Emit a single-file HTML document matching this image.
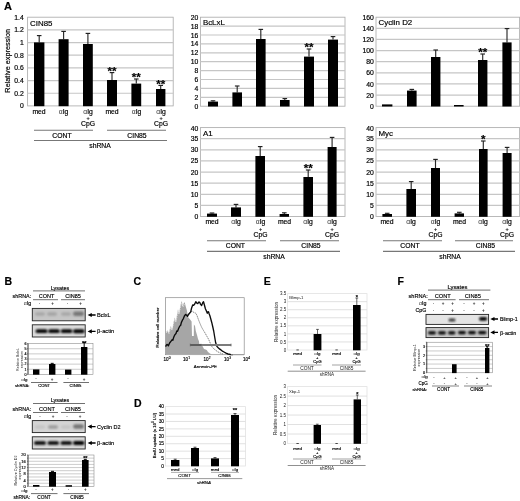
<!DOCTYPE html>
<html lang="en"><head><meta charset="utf-8"><title>Figure</title>
<style>html,body{margin:0;padding:0;background:#fff;}body{width:520px;height:501px;overflow:hidden;}svg{display:block;filter:blur(0.33px);font-family:'Liberation Sans', Arial, Helvetica, sans-serif;}text{stroke:none;}.b{stroke:#000;stroke-width:0.18px;}.s{stroke:#000;stroke-width:0.15px;}.al{stroke:none;fill:#333;}</style>
</head><body>
<svg width="520" height="501" viewBox="0 0 520 501">
<rect x="0.00" y="0.00" width="520.00" height="501.00" fill="#fff" stroke="none" stroke-width="1" />
<text class="b" x="4.00" y="9.50" font-size="11" text-anchor="start" font-weight="bold" fill="#000" >A</text>
<rect x="27.60" y="17.20" width="145.60" height="88.70" fill="#fff" stroke="#adadad" stroke-width="0.85" />
<line x1="27.60" y1="29.87" x2="173.20" y2="29.87" stroke="#c6c6c6" stroke-width="1.2" />
<line x1="27.60" y1="42.54" x2="173.20" y2="42.54" stroke="#c6c6c6" stroke-width="1.2" />
<line x1="27.60" y1="55.21" x2="173.20" y2="55.21" stroke="#c6c6c6" stroke-width="1.2" />
<line x1="27.60" y1="67.89" x2="173.20" y2="67.89" stroke="#c6c6c6" stroke-width="1.2" />
<line x1="27.60" y1="80.56" x2="173.20" y2="80.56" stroke="#c6c6c6" stroke-width="1.2" />
<line x1="27.60" y1="93.23" x2="173.20" y2="93.23" stroke="#c6c6c6" stroke-width="1.2" />
<text class="b" x="23.80" y="20.25" font-size="6.8" text-anchor="end" font-weight="normal" fill="#000" >1.4</text>
<text class="b" x="23.80" y="32.42" font-size="6.8" text-anchor="end" font-weight="normal" fill="#000" >1.2</text>
<text class="b" x="23.80" y="45.09" font-size="6.8" text-anchor="end" font-weight="normal" fill="#000" >1</text>
<text class="b" x="23.80" y="57.76" font-size="6.8" text-anchor="end" font-weight="normal" fill="#000" >0.8</text>
<text class="b" x="23.80" y="70.43" font-size="6.8" text-anchor="end" font-weight="normal" fill="#000" >0.6</text>
<text class="b" x="23.80" y="83.11" font-size="6.8" text-anchor="end" font-weight="normal" fill="#000" >0.4</text>
<text class="b" x="23.80" y="95.78" font-size="6.8" text-anchor="end" font-weight="normal" fill="#000" >0.2</text>
<text class="b" x="23.80" y="108.45" font-size="6.8" text-anchor="end" font-weight="normal" fill="#000" >0</text>
<text class="b" x="30.10" y="25.80" font-size="7.9" text-anchor="start" font-weight="normal" fill="#000" >CIN85</text>
<line x1="39.20" y1="35.60" x2="39.20" y2="42.40" stroke="#2a2a2a" stroke-width="1.15" />
<line x1="36.90" y1="35.60" x2="41.50" y2="35.60" stroke="#222" stroke-width="1.15" />
<rect x="34.00" y="42.40" width="10.40" height="63.80" fill="#000" stroke="none" stroke-width="1" />
<line x1="63.60" y1="31.40" x2="63.60" y2="39.20" stroke="#2a2a2a" stroke-width="1.15" />
<line x1="61.30" y1="31.40" x2="65.90" y2="31.40" stroke="#222" stroke-width="1.15" />
<rect x="58.60" y="39.20" width="10.00" height="67.00" fill="#000" stroke="none" stroke-width="1" />
<line x1="87.90" y1="33.40" x2="87.90" y2="44.00" stroke="#2a2a2a" stroke-width="1.15" />
<line x1="85.60" y1="33.40" x2="90.20" y2="33.40" stroke="#222" stroke-width="1.15" />
<rect x="83.00" y="44.00" width="9.80" height="62.20" fill="#000" stroke="none" stroke-width="1" />
<line x1="112.00" y1="72.60" x2="112.00" y2="80.00" stroke="#2a2a2a" stroke-width="1.15" />
<line x1="109.70" y1="72.60" x2="114.30" y2="72.60" stroke="#222" stroke-width="1.15" />
<rect x="107.00" y="80.00" width="10.00" height="26.20" fill="#000" stroke="none" stroke-width="1" />
<text class="b" x="112.00" y="74.94" font-size="11.5" text-anchor="middle" font-weight="bold" fill="#000" >**</text>
<line x1="136.30" y1="79.00" x2="136.30" y2="83.60" stroke="#2a2a2a" stroke-width="1.15" />
<line x1="134.00" y1="79.00" x2="138.60" y2="79.00" stroke="#222" stroke-width="1.15" />
<rect x="131.40" y="83.60" width="9.80" height="22.60" fill="#000" stroke="none" stroke-width="1" />
<text class="b" x="136.30" y="81.34" font-size="11.5" text-anchor="middle" font-weight="bold" fill="#000" >**</text>
<line x1="160.70" y1="85.40" x2="160.70" y2="89.00" stroke="#2a2a2a" stroke-width="1.15" />
<line x1="158.40" y1="85.40" x2="163.00" y2="85.40" stroke="#222" stroke-width="1.15" />
<rect x="156.00" y="89.00" width="9.40" height="17.20" fill="#000" stroke="none" stroke-width="1" />
<text class="b" x="160.70" y="87.74" font-size="11.5" text-anchor="middle" font-weight="bold" fill="#000" >**</text>
<text class="b" transform="translate(10.40,60.80) rotate(-90)" font-size="7.3" text-anchor="middle" fill="#000" >Relative expression</text>
<text class="b" x="39.00" y="113.80" font-size="6.8" text-anchor="middle" font-weight="normal" fill="#000" >med</text>
<text class="b" x="63.50" y="113.80" font-size="6.8" text-anchor="middle" font-weight="normal" fill="#000" ><tspan class="al">α</tspan>Ig</text>
<text class="b" x="88.00" y="113.80" font-size="6.8" text-anchor="middle" font-weight="normal" fill="#000" ><tspan class="al">α</tspan>Ig</text>
<text class="s" x="88.00" y="119.80" font-size="5.44" text-anchor="middle" font-weight="normal" fill="#000" >+</text>
<text class="b" x="88.00" y="126.00" font-size="6.8" text-anchor="middle" font-weight="normal" fill="#000" >CpG</text>
<text class="b" x="112.00" y="113.80" font-size="6.8" text-anchor="middle" font-weight="normal" fill="#000" >med</text>
<text class="b" x="136.50" y="113.80" font-size="6.8" text-anchor="middle" font-weight="normal" fill="#000" ><tspan class="al">α</tspan>Ig</text>
<text class="b" x="161.00" y="113.80" font-size="6.8" text-anchor="middle" font-weight="normal" fill="#000" ><tspan class="al">α</tspan>Ig</text>
<text class="s" x="161.00" y="119.80" font-size="5.44" text-anchor="middle" font-weight="normal" fill="#000" >+</text>
<text class="b" x="161.00" y="126.00" font-size="6.8" text-anchor="middle" font-weight="normal" fill="#000" >CpG</text>
<line x1="34.00" y1="130.20" x2="93.00" y2="130.20" stroke="#777" stroke-width="1.15" />
<line x1="107.00" y1="130.20" x2="166.00" y2="130.20" stroke="#777" stroke-width="1.15" />
<text class="b" x="62.00" y="137.60" font-size="6.8" text-anchor="middle" font-weight="normal" fill="#000" >CONT</text>
<text class="b" x="137.00" y="137.60" font-size="6.8" text-anchor="middle" font-weight="normal" fill="#000" >CIN85</text>
<line x1="34.00" y1="140.50" x2="167.00" y2="140.50" stroke="#777" stroke-width="1.15" />
<text class="b" x="100.00" y="148.40" font-size="6.8" text-anchor="middle" font-weight="normal" fill="#000" >shRNA</text>
<rect x="200.40" y="17.20" width="144.60" height="89.00" fill="#fff" stroke="#adadad" stroke-width="0.85" />
<line x1="200.40" y1="26.10" x2="345.00" y2="26.10" stroke="#c6c6c6" stroke-width="1.2" />
<line x1="200.40" y1="35.00" x2="345.00" y2="35.00" stroke="#c6c6c6" stroke-width="1.2" />
<line x1="200.40" y1="43.90" x2="345.00" y2="43.90" stroke="#c6c6c6" stroke-width="1.2" />
<line x1="200.40" y1="52.80" x2="345.00" y2="52.80" stroke="#c6c6c6" stroke-width="1.2" />
<line x1="200.40" y1="61.70" x2="345.00" y2="61.70" stroke="#c6c6c6" stroke-width="1.2" />
<line x1="200.40" y1="70.60" x2="345.00" y2="70.60" stroke="#c6c6c6" stroke-width="1.2" />
<line x1="200.40" y1="79.50" x2="345.00" y2="79.50" stroke="#c6c6c6" stroke-width="1.2" />
<line x1="200.40" y1="88.40" x2="345.00" y2="88.40" stroke="#c6c6c6" stroke-width="1.2" />
<line x1="200.40" y1="97.30" x2="345.00" y2="97.30" stroke="#c6c6c6" stroke-width="1.2" />
<text class="b" x="198.30" y="20.25" font-size="6.8" text-anchor="end" font-weight="normal" fill="#000" >20</text>
<text class="b" x="198.30" y="28.65" font-size="6.8" text-anchor="end" font-weight="normal" fill="#000" >18</text>
<text class="b" x="198.30" y="37.55" font-size="6.8" text-anchor="end" font-weight="normal" fill="#000" >16</text>
<text class="b" x="198.30" y="46.45" font-size="6.8" text-anchor="end" font-weight="normal" fill="#000" >14</text>
<text class="b" x="198.30" y="55.35" font-size="6.8" text-anchor="end" font-weight="normal" fill="#000" >12</text>
<text class="b" x="198.30" y="64.25" font-size="6.8" text-anchor="end" font-weight="normal" fill="#000" >10</text>
<text class="b" x="198.30" y="73.15" font-size="6.8" text-anchor="end" font-weight="normal" fill="#000" >8</text>
<text class="b" x="198.30" y="82.05" font-size="6.8" text-anchor="end" font-weight="normal" fill="#000" >6</text>
<text class="b" x="198.30" y="90.95" font-size="6.8" text-anchor="end" font-weight="normal" fill="#000" >4</text>
<text class="b" x="198.30" y="99.85" font-size="6.8" text-anchor="end" font-weight="normal" fill="#000" >2</text>
<text class="b" x="198.30" y="108.75" font-size="6.8" text-anchor="end" font-weight="normal" fill="#000" >0</text>
<text class="b" x="202.90" y="24.60" font-size="7.9" text-anchor="start" font-weight="normal" fill="#000" >BcLxL</text>
<line x1="213.00" y1="100.80" x2="213.00" y2="101.60" stroke="#2a2a2a" stroke-width="1.15" />
<line x1="210.70" y1="100.80" x2="215.30" y2="100.80" stroke="#222" stroke-width="1.15" />
<rect x="208.00" y="101.60" width="10.00" height="4.90" fill="#000" stroke="none" stroke-width="1" />
<line x1="237.20" y1="86.00" x2="237.20" y2="92.40" stroke="#2a2a2a" stroke-width="1.15" />
<line x1="234.90" y1="86.00" x2="239.50" y2="86.00" stroke="#222" stroke-width="1.15" />
<rect x="232.40" y="92.40" width="9.60" height="14.10" fill="#000" stroke="none" stroke-width="1" />
<line x1="260.80" y1="29.40" x2="260.80" y2="39.00" stroke="#2a2a2a" stroke-width="1.15" />
<line x1="258.50" y1="29.40" x2="263.10" y2="29.40" stroke="#222" stroke-width="1.15" />
<rect x="256.00" y="39.00" width="9.60" height="67.50" fill="#000" stroke="none" stroke-width="1" />
<line x1="284.80" y1="98.60" x2="284.80" y2="100.00" stroke="#2a2a2a" stroke-width="1.15" />
<line x1="282.50" y1="98.60" x2="287.10" y2="98.60" stroke="#222" stroke-width="1.15" />
<rect x="280.00" y="100.00" width="9.60" height="6.50" fill="#000" stroke="none" stroke-width="1" />
<line x1="309.00" y1="49.00" x2="309.00" y2="56.60" stroke="#2a2a2a" stroke-width="1.15" />
<line x1="306.70" y1="49.00" x2="311.30" y2="49.00" stroke="#222" stroke-width="1.15" />
<rect x="304.00" y="56.60" width="10.00" height="49.90" fill="#000" stroke="none" stroke-width="1" />
<text class="b" x="309.00" y="51.34" font-size="11.5" text-anchor="middle" font-weight="bold" fill="#000" >**</text>
<line x1="333.00" y1="36.60" x2="333.00" y2="39.60" stroke="#2a2a2a" stroke-width="1.15" />
<line x1="330.70" y1="36.60" x2="335.30" y2="36.60" stroke="#222" stroke-width="1.15" />
<rect x="328.00" y="39.60" width="10.00" height="66.90" fill="#000" stroke="none" stroke-width="1" />
<rect x="200.40" y="127.60" width="144.60" height="88.90" fill="#fff" stroke="#adadad" stroke-width="0.85" />
<line x1="200.40" y1="138.71" x2="345.00" y2="138.71" stroke="#c6c6c6" stroke-width="1.2" />
<line x1="200.40" y1="149.82" x2="345.00" y2="149.82" stroke="#c6c6c6" stroke-width="1.2" />
<line x1="200.40" y1="160.94" x2="345.00" y2="160.94" stroke="#c6c6c6" stroke-width="1.2" />
<line x1="200.40" y1="172.05" x2="345.00" y2="172.05" stroke="#c6c6c6" stroke-width="1.2" />
<line x1="200.40" y1="183.16" x2="345.00" y2="183.16" stroke="#c6c6c6" stroke-width="1.2" />
<line x1="200.40" y1="194.28" x2="345.00" y2="194.28" stroke="#c6c6c6" stroke-width="1.2" />
<line x1="200.40" y1="205.39" x2="345.00" y2="205.39" stroke="#c6c6c6" stroke-width="1.2" />
<text class="b" x="198.30" y="130.65" font-size="6.8" text-anchor="end" font-weight="normal" fill="#000" >40</text>
<text class="b" x="198.30" y="141.26" font-size="6.8" text-anchor="end" font-weight="normal" fill="#000" >35</text>
<text class="b" x="198.30" y="152.37" font-size="6.8" text-anchor="end" font-weight="normal" fill="#000" >30</text>
<text class="b" x="198.30" y="163.49" font-size="6.8" text-anchor="end" font-weight="normal" fill="#000" >25</text>
<text class="b" x="198.30" y="174.60" font-size="6.8" text-anchor="end" font-weight="normal" fill="#000" >20</text>
<text class="b" x="198.30" y="185.71" font-size="6.8" text-anchor="end" font-weight="normal" fill="#000" >15</text>
<text class="b" x="198.30" y="196.82" font-size="6.8" text-anchor="end" font-weight="normal" fill="#000" >10</text>
<text class="b" x="198.30" y="207.94" font-size="6.8" text-anchor="end" font-weight="normal" fill="#000" >5</text>
<text class="b" x="198.30" y="219.05" font-size="6.8" text-anchor="end" font-weight="normal" fill="#000" >0</text>
<text class="b" x="202.90" y="136.00" font-size="7.9" text-anchor="start" font-weight="normal" fill="#000" >A1</text>
<line x1="212.00" y1="213.00" x2="212.00" y2="213.60" stroke="#2a2a2a" stroke-width="1.15" />
<line x1="209.70" y1="213.00" x2="214.30" y2="213.00" stroke="#222" stroke-width="1.15" />
<rect x="207.00" y="213.60" width="10.00" height="3.20" fill="#000" stroke="none" stroke-width="1" />
<line x1="236.00" y1="204.40" x2="236.00" y2="207.40" stroke="#2a2a2a" stroke-width="1.15" />
<line x1="233.70" y1="204.40" x2="238.30" y2="204.40" stroke="#222" stroke-width="1.15" />
<rect x="231.00" y="207.40" width="10.00" height="9.40" fill="#000" stroke="none" stroke-width="1" />
<line x1="260.20" y1="146.60" x2="260.20" y2="156.00" stroke="#2a2a2a" stroke-width="1.15" />
<line x1="257.90" y1="146.60" x2="262.50" y2="146.60" stroke="#222" stroke-width="1.15" />
<rect x="255.40" y="156.00" width="9.60" height="60.80" fill="#000" stroke="none" stroke-width="1" />
<line x1="284.30" y1="212.80" x2="284.30" y2="214.00" stroke="#2a2a2a" stroke-width="1.15" />
<line x1="282.00" y1="212.80" x2="286.60" y2="212.80" stroke="#222" stroke-width="1.15" />
<rect x="279.60" y="214.00" width="9.40" height="2.80" fill="#000" stroke="none" stroke-width="1" />
<line x1="308.20" y1="170.00" x2="308.20" y2="177.00" stroke="#2a2a2a" stroke-width="1.15" />
<line x1="305.90" y1="170.00" x2="310.50" y2="170.00" stroke="#222" stroke-width="1.15" />
<rect x="303.40" y="177.00" width="9.60" height="39.80" fill="#000" stroke="none" stroke-width="1" />
<text class="b" x="308.20" y="172.34" font-size="11.5" text-anchor="middle" font-weight="bold" fill="#000" >**</text>
<line x1="332.10" y1="137.40" x2="332.10" y2="147.00" stroke="#2a2a2a" stroke-width="1.15" />
<line x1="329.80" y1="137.40" x2="334.40" y2="137.40" stroke="#222" stroke-width="1.15" />
<rect x="327.60" y="147.00" width="9.00" height="69.80" fill="#000" stroke="none" stroke-width="1" />
<text class="b" x="212.00" y="224.00" font-size="6.8" text-anchor="middle" font-weight="normal" fill="#000" >med</text>
<text class="b" x="236.00" y="224.00" font-size="6.8" text-anchor="middle" font-weight="normal" fill="#000" ><tspan class="al">α</tspan>Ig</text>
<text class="b" x="260.50" y="224.00" font-size="6.8" text-anchor="middle" font-weight="normal" fill="#000" ><tspan class="al">α</tspan>Ig</text>
<text class="s" x="260.50" y="231.30" font-size="5.44" text-anchor="middle" font-weight="normal" fill="#000" >+</text>
<text class="b" x="260.50" y="237.00" font-size="6.8" text-anchor="middle" font-weight="normal" fill="#000" >CpG</text>
<text class="b" x="284.50" y="224.00" font-size="6.8" text-anchor="middle" font-weight="normal" fill="#000" >med</text>
<text class="b" x="308.00" y="224.00" font-size="6.8" text-anchor="middle" font-weight="normal" fill="#000" ><tspan class="al">α</tspan>Ig</text>
<text class="b" x="332.00" y="224.00" font-size="6.8" text-anchor="middle" font-weight="normal" fill="#000" ><tspan class="al">α</tspan>Ig</text>
<text class="s" x="332.00" y="231.30" font-size="5.44" text-anchor="middle" font-weight="normal" fill="#000" >+</text>
<text class="b" x="332.00" y="237.00" font-size="6.8" text-anchor="middle" font-weight="normal" fill="#000" >CpG</text>
<line x1="207.00" y1="240.70" x2="266.00" y2="240.70" stroke="#777" stroke-width="1.15" />
<line x1="280.00" y1="240.70" x2="339.00" y2="240.70" stroke="#777" stroke-width="1.15" />
<text class="b" x="235.40" y="248.00" font-size="6.8" text-anchor="middle" font-weight="normal" fill="#000" >CONT</text>
<text class="b" x="311.00" y="248.00" font-size="6.8" text-anchor="middle" font-weight="normal" fill="#000" >CIN85</text>
<line x1="207.00" y1="251.30" x2="340.00" y2="251.30" stroke="#777" stroke-width="1.15" />
<text class="b" x="274.00" y="258.80" font-size="6.8" text-anchor="middle" font-weight="normal" fill="#000" >shRNA</text>
<rect x="376.00" y="17.20" width="143.60" height="89.00" fill="#fff" stroke="#adadad" stroke-width="0.85" />
<line x1="376.00" y1="28.32" x2="519.60" y2="28.32" stroke="#c6c6c6" stroke-width="1.2" />
<line x1="376.00" y1="39.45" x2="519.60" y2="39.45" stroke="#c6c6c6" stroke-width="1.2" />
<line x1="376.00" y1="50.58" x2="519.60" y2="50.58" stroke="#c6c6c6" stroke-width="1.2" />
<line x1="376.00" y1="61.70" x2="519.60" y2="61.70" stroke="#c6c6c6" stroke-width="1.2" />
<line x1="376.00" y1="72.83" x2="519.60" y2="72.83" stroke="#c6c6c6" stroke-width="1.2" />
<line x1="376.00" y1="83.95" x2="519.60" y2="83.95" stroke="#c6c6c6" stroke-width="1.2" />
<line x1="376.00" y1="95.08" x2="519.60" y2="95.08" stroke="#c6c6c6" stroke-width="1.2" />
<text class="b" x="373.90" y="20.25" font-size="6.8" text-anchor="end" font-weight="normal" fill="#000" >160</text>
<text class="b" x="373.90" y="30.87" font-size="6.8" text-anchor="end" font-weight="normal" fill="#000" >140</text>
<text class="b" x="373.90" y="42.00" font-size="6.8" text-anchor="end" font-weight="normal" fill="#000" >120</text>
<text class="b" x="373.90" y="53.12" font-size="6.8" text-anchor="end" font-weight="normal" fill="#000" >100</text>
<text class="b" x="373.90" y="64.25" font-size="6.8" text-anchor="end" font-weight="normal" fill="#000" >80</text>
<text class="b" x="373.90" y="75.37" font-size="6.8" text-anchor="end" font-weight="normal" fill="#000" >60</text>
<text class="b" x="373.90" y="86.50" font-size="6.8" text-anchor="end" font-weight="normal" fill="#000" >40</text>
<text class="b" x="373.90" y="97.62" font-size="6.8" text-anchor="end" font-weight="normal" fill="#000" >20</text>
<text class="b" x="373.90" y="108.75" font-size="6.8" text-anchor="end" font-weight="normal" fill="#000" >0</text>
<text class="b" x="378.50" y="25.10" font-size="7.9" text-anchor="start" font-weight="normal" fill="#000" >Cyclin D2</text>
<rect x="382.00" y="104.40" width="10.40" height="2.10" fill="#000" stroke="none" stroke-width="1" />
<line x1="411.80" y1="89.40" x2="411.80" y2="90.60" stroke="#2a2a2a" stroke-width="1.15" />
<line x1="409.50" y1="89.40" x2="414.10" y2="89.40" stroke="#222" stroke-width="1.15" />
<rect x="407.00" y="90.60" width="9.60" height="15.90" fill="#000" stroke="none" stroke-width="1" />
<line x1="435.70" y1="50.00" x2="435.70" y2="57.00" stroke="#2a2a2a" stroke-width="1.15" />
<line x1="433.40" y1="50.00" x2="438.00" y2="50.00" stroke="#222" stroke-width="1.15" />
<rect x="431.00" y="57.00" width="9.40" height="49.50" fill="#000" stroke="none" stroke-width="1" />
<rect x="454.00" y="105.00" width="9.60" height="1.50" fill="#000" stroke="none" stroke-width="1" />
<line x1="482.70" y1="54.00" x2="482.70" y2="60.00" stroke="#2a2a2a" stroke-width="1.15" />
<line x1="480.40" y1="54.00" x2="485.00" y2="54.00" stroke="#222" stroke-width="1.15" />
<rect x="478.00" y="60.00" width="9.40" height="46.50" fill="#000" stroke="none" stroke-width="1" />
<text class="b" x="482.70" y="56.34" font-size="11.5" text-anchor="middle" font-weight="bold" fill="#000" >**</text>
<line x1="507.00" y1="28.60" x2="507.00" y2="42.40" stroke="#2a2a2a" stroke-width="1.15" />
<line x1="504.70" y1="28.60" x2="509.30" y2="28.60" stroke="#222" stroke-width="1.15" />
<rect x="502.40" y="42.40" width="9.20" height="64.10" fill="#000" stroke="none" stroke-width="1" />
<rect x="376.00" y="127.60" width="143.60" height="88.90" fill="#fff" stroke="#adadad" stroke-width="0.85" />
<line x1="376.00" y1="138.71" x2="519.60" y2="138.71" stroke="#c6c6c6" stroke-width="1.2" />
<line x1="376.00" y1="149.82" x2="519.60" y2="149.82" stroke="#c6c6c6" stroke-width="1.2" />
<line x1="376.00" y1="160.94" x2="519.60" y2="160.94" stroke="#c6c6c6" stroke-width="1.2" />
<line x1="376.00" y1="172.05" x2="519.60" y2="172.05" stroke="#c6c6c6" stroke-width="1.2" />
<line x1="376.00" y1="183.16" x2="519.60" y2="183.16" stroke="#c6c6c6" stroke-width="1.2" />
<line x1="376.00" y1="194.28" x2="519.60" y2="194.28" stroke="#c6c6c6" stroke-width="1.2" />
<line x1="376.00" y1="205.39" x2="519.60" y2="205.39" stroke="#c6c6c6" stroke-width="1.2" />
<text class="b" x="373.90" y="130.65" font-size="6.8" text-anchor="end" font-weight="normal" fill="#000" >40</text>
<text class="b" x="373.90" y="141.26" font-size="6.8" text-anchor="end" font-weight="normal" fill="#000" >35</text>
<text class="b" x="373.90" y="152.37" font-size="6.8" text-anchor="end" font-weight="normal" fill="#000" >30</text>
<text class="b" x="373.90" y="163.49" font-size="6.8" text-anchor="end" font-weight="normal" fill="#000" >25</text>
<text class="b" x="373.90" y="174.60" font-size="6.8" text-anchor="end" font-weight="normal" fill="#000" >20</text>
<text class="b" x="373.90" y="185.71" font-size="6.8" text-anchor="end" font-weight="normal" fill="#000" >15</text>
<text class="b" x="373.90" y="196.82" font-size="6.8" text-anchor="end" font-weight="normal" fill="#000" >10</text>
<text class="b" x="373.90" y="207.94" font-size="6.8" text-anchor="end" font-weight="normal" fill="#000" >5</text>
<text class="b" x="373.90" y="219.05" font-size="6.8" text-anchor="end" font-weight="normal" fill="#000" >0</text>
<text class="b" x="378.50" y="135.70" font-size="7.9" text-anchor="start" font-weight="normal" fill="#000" >Myc</text>
<line x1="387.20" y1="213.30" x2="387.20" y2="214.00" stroke="#2a2a2a" stroke-width="1.15" />
<line x1="384.90" y1="213.30" x2="389.50" y2="213.30" stroke="#222" stroke-width="1.15" />
<rect x="382.40" y="214.00" width="9.60" height="2.80" fill="#000" stroke="none" stroke-width="1" />
<line x1="411.20" y1="181.60" x2="411.20" y2="189.00" stroke="#2a2a2a" stroke-width="1.15" />
<line x1="408.90" y1="181.60" x2="413.50" y2="181.60" stroke="#222" stroke-width="1.15" />
<rect x="406.40" y="189.00" width="9.60" height="27.80" fill="#000" stroke="none" stroke-width="1" />
<line x1="435.50" y1="159.40" x2="435.50" y2="168.00" stroke="#2a2a2a" stroke-width="1.15" />
<line x1="433.20" y1="159.40" x2="437.80" y2="159.40" stroke="#222" stroke-width="1.15" />
<rect x="431.00" y="168.00" width="9.00" height="48.80" fill="#000" stroke="none" stroke-width="1" />
<line x1="459.30" y1="212.30" x2="459.30" y2="213.40" stroke="#2a2a2a" stroke-width="1.15" />
<line x1="457.00" y1="212.30" x2="461.60" y2="212.30" stroke="#222" stroke-width="1.15" />
<rect x="454.60" y="213.40" width="9.40" height="3.40" fill="#000" stroke="none" stroke-width="1" />
<line x1="483.30" y1="141.00" x2="483.30" y2="149.00" stroke="#2a2a2a" stroke-width="1.15" />
<line x1="481.00" y1="141.00" x2="485.60" y2="141.00" stroke="#222" stroke-width="1.15" />
<rect x="479.00" y="149.00" width="8.60" height="67.80" fill="#000" stroke="none" stroke-width="1" />
<text class="b" x="483.30" y="143.34" font-size="11.5" text-anchor="middle" font-weight="bold" fill="#000" >*</text>
<line x1="507.10" y1="147.40" x2="507.10" y2="153.00" stroke="#2a2a2a" stroke-width="1.15" />
<line x1="504.80" y1="147.40" x2="509.40" y2="147.40" stroke="#222" stroke-width="1.15" />
<rect x="502.60" y="153.00" width="9.00" height="63.80" fill="#000" stroke="none" stroke-width="1" />
<text class="b" x="387.00" y="224.00" font-size="6.8" text-anchor="middle" font-weight="normal" fill="#000" >med</text>
<text class="b" x="411.00" y="224.00" font-size="6.8" text-anchor="middle" font-weight="normal" fill="#000" ><tspan class="al">α</tspan>Ig</text>
<text class="b" x="435.50" y="224.00" font-size="6.8" text-anchor="middle" font-weight="normal" fill="#000" ><tspan class="al">α</tspan>Ig</text>
<text class="s" x="435.50" y="231.30" font-size="5.44" text-anchor="middle" font-weight="normal" fill="#000" >+</text>
<text class="b" x="435.50" y="237.00" font-size="6.8" text-anchor="middle" font-weight="normal" fill="#000" >CpG</text>
<text class="b" x="459.50" y="224.00" font-size="6.8" text-anchor="middle" font-weight="normal" fill="#000" >med</text>
<text class="b" x="483.00" y="224.00" font-size="6.8" text-anchor="middle" font-weight="normal" fill="#000" ><tspan class="al">α</tspan>Ig</text>
<text class="b" x="507.00" y="224.00" font-size="6.8" text-anchor="middle" font-weight="normal" fill="#000" ><tspan class="al">α</tspan>Ig</text>
<text class="s" x="507.00" y="231.30" font-size="5.44" text-anchor="middle" font-weight="normal" fill="#000" >+</text>
<text class="b" x="507.00" y="237.00" font-size="6.8" text-anchor="middle" font-weight="normal" fill="#000" >CpG</text>
<line x1="383.00" y1="240.70" x2="442.00" y2="240.70" stroke="#777" stroke-width="1.15" />
<line x1="455.00" y1="240.70" x2="513.00" y2="240.70" stroke="#777" stroke-width="1.15" />
<text class="b" x="410.00" y="248.00" font-size="6.8" text-anchor="middle" font-weight="normal" fill="#000" >CONT</text>
<text class="b" x="485.40" y="248.00" font-size="6.8" text-anchor="middle" font-weight="normal" fill="#000" >CIN85</text>
<line x1="383.00" y1="251.30" x2="515.00" y2="251.30" stroke="#777" stroke-width="1.15" />
<text class="b" x="450.00" y="258.80" font-size="6.8" text-anchor="middle" font-weight="normal" fill="#000" >shRNA</text>
<text class="b" x="4.60" y="284.80" font-size="10.5" text-anchor="start" font-weight="bold" fill="#000" >B</text>
<defs><filter id="bl" x="-20%" y="-50%" width="140%" height="200%"><feGaussianBlur stdDeviation="0.85"/></filter><filter id="bl2" x="-20%" y="-50%" width="140%" height="200%"><feGaussianBlur stdDeviation="1.1"/></filter></defs>
<text class="s" x="60.00" y="289.60" font-size="5.4" text-anchor="middle" font-weight="normal" fill="#000" >Lysates</text>
<line x1="33.00" y1="290.90" x2="85.00" y2="290.90" stroke="#333" stroke-width="0.7" />
<text class="s" x="31.20" y="297.70" font-size="5.4" text-anchor="end" font-weight="normal" fill="#000" >shRNA:</text>
<text class="s" x="46.50" y="297.70" font-size="5.5" text-anchor="middle" font-weight="normal" fill="#000" >CONT</text>
<text class="s" x="73.00" y="297.70" font-size="5.5" text-anchor="middle" font-weight="normal" fill="#000" >CIN85</text>
<line x1="33.00" y1="299.70" x2="58.00" y2="299.70" stroke="#333" stroke-width="0.7" />
<line x1="61.00" y1="299.70" x2="85.00" y2="299.70" stroke="#333" stroke-width="0.7" />
<text class="s" x="31.20" y="305.30" font-size="5.2" text-anchor="end" font-weight="normal" fill="#000" ><tspan class="al">α</tspan>Ig</text>
<text x="39.40" y="304.80" font-size="4.5" text-anchor="middle" font-weight="normal" fill="#333" >-</text>
<text x="52.60" y="305.10" font-size="4.5" text-anchor="middle" font-weight="bold" fill="#333" >+</text>
<text x="67.40" y="304.80" font-size="4.5" text-anchor="middle" font-weight="normal" fill="#333" >-</text>
<text x="80.60" y="305.10" font-size="4.5" text-anchor="middle" font-weight="bold" fill="#333" >+</text>
<rect x="32.30" y="308.40" width="52.90" height="12.40" fill="#c6c6c6" stroke="#222" stroke-width="0.9" />
<rect x="35.00" y="312.25" width="10.00" height="3.50" rx="1.75" fill="#888" opacity="0.5" filter="url(#bl2)"/>
<rect x="47.00" y="312.25" width="10.00" height="3.50" rx="1.75" fill="#888" opacity="0.55" filter="url(#bl2)"/>
<rect x="61.00" y="312.25" width="10.00" height="3.50" rx="1.75" fill="#888" opacity="0.5" filter="url(#bl2)"/>
<rect x="73.00" y="311.55" width="11.00" height="4.50" rx="2.25" fill="#555" opacity="0.7" filter="url(#bl2)"/>
<rect x="32.30" y="324.80" width="52.90" height="12.20" fill="#dcdcdc" stroke="#222" stroke-width="0.9" />
<rect x="35.60" y="329.30" width="12.00" height="3.80" rx="1.90" fill="#000" opacity="1" filter="url(#bl)"/>
<rect x="48.20" y="329.30" width="11.60" height="3.80" rx="1.90" fill="#000" opacity="1" filter="url(#bl)"/>
<rect x="60.80" y="329.30" width="11.60" height="3.80" rx="1.90" fill="#000" opacity="1" filter="url(#bl)"/>
<rect x="73.00" y="329.15" width="11.60" height="4.10" rx="2.05" fill="#000" opacity="1" filter="url(#bl)"/>
<path d="M87.60,315.00 l4.2,-2.1 v1.45 h3.80 v1.3 h-3.80 v1.45 z" fill="#000"/>
<path d="M87.60,331.40 l4.2,-2.1 v1.45 h3.80 v1.3 h-3.80 v1.45 z" fill="#000"/>
<text class="s" x="97.00" y="317.00" font-size="5.6" text-anchor="start" font-weight="normal" fill="#000" >BclxL</text>
<text class="s" x="97.00" y="333.40" font-size="5.7" text-anchor="start" font-weight="normal" fill="#000" >β-actin</text>
<rect x="28.00" y="343.60" width="65.00" height="30.80" fill="#fff" stroke="#777" stroke-width="0.5" />
<line x1="28.00" y1="348.73" x2="93.00" y2="348.73" stroke="#999" stroke-width="0.5" />
<line x1="28.00" y1="353.87" x2="93.00" y2="353.87" stroke="#999" stroke-width="0.5" />
<line x1="28.00" y1="359.00" x2="93.00" y2="359.00" stroke="#999" stroke-width="0.5" />
<line x1="28.00" y1="364.13" x2="93.00" y2="364.13" stroke="#999" stroke-width="0.5" />
<line x1="28.00" y1="369.27" x2="93.00" y2="369.27" stroke="#999" stroke-width="0.5" />
<line x1="28.00" y1="343.60" x2="28.00" y2="374.40" stroke="#333" stroke-width="0.8" />
<line x1="27.00" y1="343.60" x2="28.00" y2="343.60" stroke="#333" stroke-width="0.5" />
<line x1="27.00" y1="348.73" x2="28.00" y2="348.73" stroke="#333" stroke-width="0.5" />
<line x1="27.00" y1="353.87" x2="28.00" y2="353.87" stroke="#333" stroke-width="0.5" />
<line x1="27.00" y1="359.00" x2="28.00" y2="359.00" stroke="#333" stroke-width="0.5" />
<line x1="27.00" y1="364.13" x2="28.00" y2="364.13" stroke="#333" stroke-width="0.5" />
<line x1="27.00" y1="369.27" x2="28.00" y2="369.27" stroke="#333" stroke-width="0.5" />
<line x1="27.00" y1="374.40" x2="28.00" y2="374.40" stroke="#333" stroke-width="0.5" />
<text class="s" x="26.40" y="344.90" font-size="3.6" text-anchor="end" font-weight="normal" fill="#000" >6</text>
<text class="s" x="26.40" y="350.03" font-size="3.6" text-anchor="end" font-weight="normal" fill="#000" >5</text>
<text class="s" x="26.40" y="355.16" font-size="3.6" text-anchor="end" font-weight="normal" fill="#000" >4</text>
<text class="s" x="26.40" y="360.30" font-size="3.6" text-anchor="end" font-weight="normal" fill="#000" >3</text>
<text class="s" x="26.40" y="365.43" font-size="3.6" text-anchor="end" font-weight="normal" fill="#000" >2</text>
<text class="s" x="26.40" y="370.56" font-size="3.6" text-anchor="end" font-weight="normal" fill="#000" >1</text>
<text class="s" x="26.40" y="375.70" font-size="3.6" text-anchor="end" font-weight="normal" fill="#000" >0</text>
<rect x="33.00" y="369.40" width="6.40" height="5.30" fill="#000" stroke="none" stroke-width="1" />
<line x1="52.20" y1="363.40" x2="52.20" y2="364.00" stroke="#2a2a2a" stroke-width="1.15" />
<line x1="50.70" y1="363.40" x2="53.70" y2="363.40" stroke="#222" stroke-width="1.15" />
<rect x="49.00" y="364.00" width="6.40" height="10.70" fill="#000" stroke="none" stroke-width="1" />
<rect x="65.00" y="369.60" width="6.40" height="5.10" fill="#000" stroke="none" stroke-width="1" />
<line x1="84.20" y1="342.60" x2="84.20" y2="347.00" stroke="#2a2a2a" stroke-width="1.15" />
<line x1="82.70" y1="342.60" x2="85.70" y2="342.60" stroke="#222" stroke-width="1.15" />
<rect x="81.00" y="347.00" width="6.40" height="27.70" fill="#000" stroke="none" stroke-width="1" />
<text class="s" x="84.20" y="344.88" font-size="5.5" text-anchor="middle" font-weight="bold" fill="#000" >**</text>
<text transform="translate(19.00,359.50) rotate(-90)" font-size="3.6" text-anchor="middle" fill="#222" >Relative BclxL</text>
<text transform="translate(23.00,359.50) rotate(-90)" font-size="3.6" text-anchor="middle" fill="#222" >expression</text>
<text class="s" x="27.40" y="380.90" font-size="4.4" text-anchor="end" font-weight="normal" fill="#000" ><tspan class="al">α</tspan>Ig</text>
<text x="36.00" y="380.20" font-size="4.5" text-anchor="middle" font-weight="normal" fill="#333" >-</text>
<text x="52.00" y="380.50" font-size="4.5" text-anchor="middle" font-weight="bold" fill="#333" >+</text>
<text x="68.00" y="380.20" font-size="4.5" text-anchor="middle" font-weight="normal" fill="#333" >-</text>
<text x="84.00" y="380.50" font-size="4.5" text-anchor="middle" font-weight="bold" fill="#333" >+</text>
<line x1="31.00" y1="382.50" x2="57.50" y2="382.50" stroke="#333" stroke-width="0.7" />
<line x1="63.40" y1="382.50" x2="89.00" y2="382.50" stroke="#333" stroke-width="0.7" />
<text class="s" x="29.40" y="387.40" font-size="4.2" text-anchor="end" font-weight="normal" fill="#000" >shRNA:</text>
<text class="s" x="44.20" y="387.40" font-size="4.2" text-anchor="middle" font-weight="normal" fill="#000" >CONT</text>
<text class="s" x="75.50" y="387.40" font-size="4.2" text-anchor="middle" font-weight="normal" fill="#000" >CIN85</text>
<text class="s" x="60.00" y="402.20" font-size="5.4" text-anchor="middle" font-weight="normal" fill="#000" >Lysates</text>
<line x1="33.00" y1="403.50" x2="85.00" y2="403.50" stroke="#333" stroke-width="0.7" />
<text class="s" x="31.20" y="411.20" font-size="5.4" text-anchor="end" font-weight="normal" fill="#000" >shRNA:</text>
<text class="s" x="47.00" y="411.20" font-size="5.6" text-anchor="middle" font-weight="normal" fill="#000" >CONT</text>
<text class="s" x="73.00" y="411.20" font-size="5.6" text-anchor="middle" font-weight="normal" fill="#000" >CIN85</text>
<line x1="33.00" y1="412.50" x2="58.00" y2="412.50" stroke="#333" stroke-width="0.7" />
<line x1="61.00" y1="412.50" x2="85.00" y2="412.50" stroke="#333" stroke-width="0.7" />
<text class="s" x="31.20" y="418.00" font-size="5.2" text-anchor="end" font-weight="normal" fill="#000" ><tspan class="al">α</tspan>Ig</text>
<text x="40.00" y="417.60" font-size="4.5" text-anchor="middle" font-weight="normal" fill="#333" >-</text>
<text x="53.00" y="417.90" font-size="4.5" text-anchor="middle" font-weight="bold" fill="#333" >+</text>
<text x="67.00" y="417.60" font-size="4.5" text-anchor="middle" font-weight="normal" fill="#333" >-</text>
<text x="80.00" y="417.90" font-size="4.5" text-anchor="middle" font-weight="bold" fill="#333" >+</text>
<rect x="32.30" y="420.60" width="52.90" height="12.00" fill="#d4d4d4" stroke="#222" stroke-width="0.9" />
<rect x="35.00" y="425.50" width="10.00" height="3.00" rx="1.50" fill="#aaa" opacity="0.4" filter="url(#bl2)"/>
<rect x="48.00" y="425.25" width="10.00" height="3.50" rx="1.75" fill="#777" opacity="0.6" filter="url(#bl2)"/>
<rect x="61.00" y="425.50" width="10.00" height="3.00" rx="1.50" fill="#aaa" opacity="0.4" filter="url(#bl2)"/>
<rect x="73.00" y="424.35" width="11.00" height="4.50" rx="2.25" fill="#555" opacity="0.75" filter="url(#bl2)"/>
<rect x="32.30" y="436.80" width="52.90" height="12.20" fill="#d8d8d8" stroke="#222" stroke-width="0.9" />
<rect x="34.00" y="441.15" width="12.00" height="3.70" rx="1.85" fill="#000" opacity="1" filter="url(#bl)"/>
<rect x="47.50" y="441.15" width="11.50" height="3.70" rx="1.85" fill="#000" opacity="1" filter="url(#bl)"/>
<rect x="60.50" y="441.15" width="11.50" height="3.70" rx="1.85" fill="#000" opacity="1" filter="url(#bl)"/>
<rect x="73.00" y="441.00" width="11.50" height="4.00" rx="2.00" fill="#000" opacity="1" filter="url(#bl)"/>
<path d="M87.60,426.60 l4.2,-2.1 v1.45 h3.80 v1.3 h-3.80 v1.45 z" fill="#000"/>
<path d="M87.60,443.00 l4.2,-2.1 v1.45 h3.80 v1.3 h-3.80 v1.45 z" fill="#000"/>
<text class="s" x="97.00" y="428.60" font-size="5.5" text-anchor="start" font-weight="normal" fill="#000" >Cyclin D2</text>
<text class="s" x="97.00" y="445.00" font-size="5.7" text-anchor="start" font-weight="normal" fill="#000" >β-actin</text>
<rect x="28.00" y="455.00" width="66.00" height="31.40" fill="#fff" stroke="#777" stroke-width="0.5" />
<line x1="28.00" y1="458.14" x2="94.00" y2="458.14" stroke="#999" stroke-width="0.5" />
<line x1="28.00" y1="461.28" x2="94.00" y2="461.28" stroke="#999" stroke-width="0.5" />
<line x1="28.00" y1="464.42" x2="94.00" y2="464.42" stroke="#999" stroke-width="0.5" />
<line x1="28.00" y1="467.56" x2="94.00" y2="467.56" stroke="#999" stroke-width="0.5" />
<line x1="28.00" y1="470.70" x2="94.00" y2="470.70" stroke="#999" stroke-width="0.5" />
<line x1="28.00" y1="473.84" x2="94.00" y2="473.84" stroke="#999" stroke-width="0.5" />
<line x1="28.00" y1="476.98" x2="94.00" y2="476.98" stroke="#999" stroke-width="0.5" />
<line x1="28.00" y1="480.12" x2="94.00" y2="480.12" stroke="#999" stroke-width="0.5" />
<line x1="28.00" y1="483.26" x2="94.00" y2="483.26" stroke="#999" stroke-width="0.5" />
<line x1="28.00" y1="455.00" x2="28.00" y2="486.40" stroke="#333" stroke-width="0.8" />
<line x1="27.00" y1="455.00" x2="28.00" y2="455.00" stroke="#333" stroke-width="0.5" />
<line x1="27.00" y1="458.14" x2="28.00" y2="458.14" stroke="#333" stroke-width="0.5" />
<line x1="27.00" y1="461.28" x2="28.00" y2="461.28" stroke="#333" stroke-width="0.5" />
<line x1="27.00" y1="464.42" x2="28.00" y2="464.42" stroke="#333" stroke-width="0.5" />
<line x1="27.00" y1="467.56" x2="28.00" y2="467.56" stroke="#333" stroke-width="0.5" />
<line x1="27.00" y1="470.70" x2="28.00" y2="470.70" stroke="#333" stroke-width="0.5" />
<line x1="27.00" y1="473.84" x2="28.00" y2="473.84" stroke="#333" stroke-width="0.5" />
<line x1="27.00" y1="476.98" x2="28.00" y2="476.98" stroke="#333" stroke-width="0.5" />
<line x1="27.00" y1="480.12" x2="28.00" y2="480.12" stroke="#333" stroke-width="0.5" />
<line x1="27.00" y1="483.26" x2="28.00" y2="483.26" stroke="#333" stroke-width="0.5" />
<line x1="27.00" y1="486.40" x2="28.00" y2="486.40" stroke="#333" stroke-width="0.5" />
<text class="s" x="25.70" y="456.44" font-size="4.0" text-anchor="end" font-weight="normal" fill="#000" >20</text>
<text class="s" x="25.70" y="462.72" font-size="4.0" text-anchor="end" font-weight="normal" fill="#000" >16</text>
<text class="s" x="25.70" y="469.00" font-size="4.0" text-anchor="end" font-weight="normal" fill="#000" >12</text>
<text class="s" x="25.70" y="475.28" font-size="4.0" text-anchor="end" font-weight="normal" fill="#000" >8</text>
<text class="s" x="25.70" y="481.56" font-size="4.0" text-anchor="end" font-weight="normal" fill="#000" >4</text>
<text class="s" x="25.70" y="487.84" font-size="4.0" text-anchor="end" font-weight="normal" fill="#000" >0</text>
<rect x="33.00" y="485.00" width="6.40" height="1.70" fill="#000" stroke="none" stroke-width="1" />
<line x1="52.50" y1="471.40" x2="52.50" y2="472.00" stroke="#2a2a2a" stroke-width="1.15" />
<line x1="51.00" y1="471.40" x2="54.00" y2="471.40" stroke="#222" stroke-width="1.15" />
<rect x="49.00" y="472.00" width="7.00" height="14.70" fill="#000" stroke="none" stroke-width="1" />
<rect x="65.60" y="485.20" width="6.40" height="1.50" fill="#000" stroke="none" stroke-width="1" />
<line x1="85.30" y1="459.40" x2="85.30" y2="460.00" stroke="#2a2a2a" stroke-width="1.15" />
<line x1="83.80" y1="459.40" x2="86.80" y2="459.40" stroke="#222" stroke-width="1.15" />
<rect x="82.00" y="460.00" width="6.60" height="26.70" fill="#000" stroke="none" stroke-width="1" />
<text class="s" x="85.30" y="460.18" font-size="5.5" text-anchor="middle" font-weight="bold" fill="#000" >**</text>
<text transform="translate(16.50,470.50) rotate(-90)" font-size="3.7" text-anchor="middle" fill="#222" >Relative Cyclin D2</text>
<text transform="translate(20.60,470.50) rotate(-90)" font-size="3.7" text-anchor="middle" fill="#222" >expression</text>
<text class="s" x="27.40" y="491.60" font-size="4.4" text-anchor="end" font-weight="normal" fill="#000" ><tspan class="al">α</tspan>Ig</text>
<text x="36.00" y="490.80" font-size="4.5" text-anchor="middle" font-weight="normal" fill="#333" >-</text>
<text x="52.40" y="491.10" font-size="4.5" text-anchor="middle" font-weight="bold" fill="#333" >+</text>
<text x="68.60" y="490.80" font-size="4.5" text-anchor="middle" font-weight="normal" fill="#333" >-</text>
<text x="85.40" y="491.10" font-size="4.5" text-anchor="middle" font-weight="bold" fill="#333" >+</text>
<line x1="31.00" y1="493.60" x2="57.50" y2="493.60" stroke="#333" stroke-width="0.7" />
<line x1="63.40" y1="493.60" x2="89.00" y2="493.60" stroke="#333" stroke-width="0.7" />
<text class="s" x="30.00" y="498.80" font-size="4.8" text-anchor="end" font-weight="normal" fill="#000" >shRNA:</text>
<text class="s" x="44.00" y="498.80" font-size="4.8" text-anchor="middle" font-weight="normal" fill="#000" >CONT</text>
<text class="s" x="77.00" y="498.80" font-size="4.8" text-anchor="middle" font-weight="normal" fill="#000" >CIN85</text>
<text class="b" x="133.60" y="284.80" font-size="10.5" text-anchor="start" font-weight="bold" fill="#000" >C</text>
<rect x="165.40" y="297.70" width="78.80" height="57.00" fill="#fff" stroke="#8a8a8a" stroke-width="0.7" />
<polygon points="165.6,354.6 165.6,331.0 166.6,332.0 167.7,330.2 168.8,333.5 169.8,329.0 170.9,326.0 171.8,330.0 172.8,327.0 173.6,322.0 174.8,317.6 175.8,322.0 176.8,316.0 178.0,309.3 179.0,314.0 180.0,308.0 180.8,304.0 181.8,301.0 182.8,306.5 183.8,303.0 184.7,302.3 185.6,306.0 186.9,310.6 188.0,317.0 190.1,319.5 191.6,321.5 192.0,336.0 193.8,336.0 193.9,324.6 195.0,326.0 195.8,331.0 197.0,335.0 198.0,339.0 199.0,341.3 199.5,346.0 200.6,346.0 200.9,343.0 201.6,344.4 203.0,347.0 204.0,349.0 205.5,349.5 206.7,350.0 208.0,352.0 209.9,353.4 212.0,354.6" fill="#a6a6a6"/>
<polyline points="166.2,333.0 167.7,331.0 169.0,333.5 170.9,327.0 172.0,330.0 173.6,323.0 174.8,319.0 176.0,322.0 178.0,311.0 179.0,314.0 180.8,305.5 181.8,303.0 183.0,307.0 184.7,304.0" fill="none" stroke="#f2f2f2" stroke-width="0.7" stroke-dasharray="1.4,1"/>
<polyline points="188.6,315.5 190.7,311.9 192.5,311.3 193.9,312.5 195.8,313.2 197.0,315.5 198.4,319.5 200.0,323.5 201.6,327.2 203.5,330.5 205.4,333.6 207.0,336.5 208.6,339.3 210.2,343.0 211.8,346.4 213.5,348.5 215.6,350.2 217.5,351.6 219.5,352.7 223.0,354.0" fill="none" stroke="#6e6e6e" stroke-width="0.85" stroke-dasharray="1.5,0.7"/>
<polyline points="165.6,346.6 166.4,345.0 167.2,344.4 168.4,345.8 169.6,343.0 170.9,341.3 172.0,339.8 172.8,340.3 173.8,337.0 174.8,334.9 176.0,333.5 176.8,331.0 177.6,331.3 178.6,328.5 179.8,326.0 180.6,325.5 181.4,322.4 182.4,320.2 183.4,318.6 184.4,316.0 185.6,314.4 186.6,315.2 187.5,316.4 188.4,314.4 189.5,313.2 190.7,311.9 191.6,308.0 192.7,304.9 193.6,305.3 194.6,304.2 195.8,301.7 196.8,303.2 197.8,303.6 198.8,302.0 199.7,302.3 200.6,304.4 201.6,305.5 202.6,303.0 203.5,301.7 204.4,305.0 205.4,308.7 206.4,311.0 207.3,313.2 208.0,311.7 208.6,311.9 209.2,314.0 209.9,315.7 210.8,319.0 211.8,322.7 212.8,327.0 213.7,331.0 214.6,336.5 215.6,342.5 216.9,346.4 218.2,347.8 219.5,348.9 222.0,350.8 224.0,352.0 226.0,353.2 228.0,354.0 230.5,354.5 233.0,354.7" fill="none" stroke="#0c0c0c" stroke-width="1.35" stroke-linejoin="round"/>
<line x1="190.10" y1="345.00" x2="231.20" y2="345.00" stroke="#7c7c7c" stroke-width="1.8" />
<line x1="190.10" y1="345.00" x2="201.50" y2="345.00" stroke="#5a5a5a" stroke-width="1.8" />
<line x1="231.00" y1="354.70" x2="244.00" y2="354.70" stroke="#999" stroke-width="1.0" />
<line x1="190.30" y1="343.60" x2="190.30" y2="346.40" stroke="#666" stroke-width="0.7" />
<line x1="231.00" y1="343.60" x2="231.00" y2="346.40" stroke="#666" stroke-width="0.7" />
<text x="167.0" y="361.2" class="s" font-size="4.6" text-anchor="middle" fill="#000">10<tspan dy="-1.8" font-size="3.2">0</tspan></text>
<text x="186.5" y="361.2" class="s" font-size="4.6" text-anchor="middle" fill="#000">10<tspan dy="-1.8" font-size="3.2">1</tspan></text>
<text x="207.0" y="361.2" class="s" font-size="4.6" text-anchor="middle" fill="#000">10<tspan dy="-1.8" font-size="3.2">2</tspan></text>
<text x="227.5" y="361.2" class="s" font-size="4.6" text-anchor="middle" fill="#000">10<tspan dy="-1.8" font-size="3.2">3</tspan></text>
<text x="246.5" y="361.2" class="s" font-size="4.6" text-anchor="middle" fill="#000">10<tspan dy="-1.8" font-size="3.2">4</tspan></text>
<text class="s" x="205.40" y="368.00" font-size="4.4" text-anchor="middle" font-weight="normal" fill="#000" >Annexin-PE</text>
<text class="s" transform="translate(158.60,327.50) rotate(-90)" font-size="4.4" text-anchor="middle" fill="#000" >Relative cell number</text>
<text class="b" x="134.00" y="407.40" font-size="10.5" text-anchor="start" font-weight="bold" fill="#000" >D</text>
<rect x="165.50" y="406.60" width="79.90" height="59.40" fill="#fff" stroke="#e2e2e2" stroke-width="0.8" />
<line x1="165.50" y1="414.03" x2="245.40" y2="414.03" stroke="#d9d9d9" stroke-width="0.8" />
<line x1="165.50" y1="421.45" x2="245.40" y2="421.45" stroke="#d9d9d9" stroke-width="0.8" />
<line x1="165.50" y1="428.88" x2="245.40" y2="428.88" stroke="#d9d9d9" stroke-width="0.8" />
<line x1="165.50" y1="436.30" x2="245.40" y2="436.30" stroke="#d9d9d9" stroke-width="0.8" />
<line x1="165.50" y1="443.73" x2="245.40" y2="443.73" stroke="#d9d9d9" stroke-width="0.8" />
<line x1="165.50" y1="451.15" x2="245.40" y2="451.15" stroke="#d9d9d9" stroke-width="0.8" />
<line x1="165.50" y1="458.57" x2="245.40" y2="458.57" stroke="#d9d9d9" stroke-width="0.8" />
<text class="s" x="164.00" y="408.33" font-size="4.8" text-anchor="end" font-weight="normal" fill="#000" >40</text>
<text class="s" x="164.00" y="415.75" font-size="4.8" text-anchor="end" font-weight="normal" fill="#000" >35</text>
<text class="s" x="164.00" y="423.18" font-size="4.8" text-anchor="end" font-weight="normal" fill="#000" >30</text>
<text class="s" x="164.00" y="430.60" font-size="4.8" text-anchor="end" font-weight="normal" fill="#000" >25</text>
<text class="s" x="164.00" y="438.03" font-size="4.8" text-anchor="end" font-weight="normal" fill="#000" >20</text>
<text class="s" x="164.00" y="445.45" font-size="4.8" text-anchor="end" font-weight="normal" fill="#000" >15</text>
<text class="s" x="164.00" y="452.88" font-size="4.8" text-anchor="end" font-weight="normal" fill="#000" >10</text>
<text class="s" x="164.00" y="460.30" font-size="4.8" text-anchor="end" font-weight="normal" fill="#000" >5</text>
<text class="s" x="164.00" y="467.73" font-size="4.8" text-anchor="end" font-weight="normal" fill="#000" >0</text>
<line x1="175.20" y1="459.20" x2="175.20" y2="460.00" stroke="#2a2a2a" stroke-width="0.8" />
<line x1="173.70" y1="459.20" x2="176.70" y2="459.20" stroke="#222" stroke-width="0.8" />
<rect x="171.00" y="460.00" width="8.40" height="6.30" fill="#000" stroke="none" stroke-width="1" />
<line x1="195.00" y1="447.20" x2="195.00" y2="448.00" stroke="#2a2a2a" stroke-width="0.8" />
<line x1="193.50" y1="447.20" x2="196.50" y2="447.20" stroke="#222" stroke-width="0.8" />
<rect x="191.00" y="448.00" width="8.00" height="18.30" fill="#000" stroke="none" stroke-width="1" />
<line x1="215.00" y1="457.60" x2="215.00" y2="458.40" stroke="#2a2a2a" stroke-width="0.8" />
<line x1="213.50" y1="457.60" x2="216.50" y2="457.60" stroke="#222" stroke-width="0.8" />
<rect x="211.00" y="458.40" width="8.00" height="7.90" fill="#000" stroke="none" stroke-width="1" />
<line x1="235.00" y1="413.60" x2="235.00" y2="415.00" stroke="#2a2a2a" stroke-width="0.8" />
<line x1="233.50" y1="413.60" x2="236.50" y2="413.60" stroke="#222" stroke-width="0.8" />
<rect x="231.00" y="415.00" width="8.00" height="51.30" fill="#000" stroke="none" stroke-width="1" />
<text class="s" x="235.00" y="411.58" font-size="5.5" text-anchor="middle" font-weight="bold" fill="#000" >**</text>
<text class="s" transform="translate(155.60,435.50) rotate(-90)" font-size="4.4" text-anchor="middle" fill="#000" >BrdU uptake (x 10<tspan dy="-1.5" font-size="3">5</tspan><tspan dy="1.5"> LU)</tspan></text>
<text class="s" x="175.20" y="470.60" font-size="4.4" text-anchor="middle" font-weight="normal" fill="#000" >med</text>
<text class="s" x="195.00" y="470.60" font-size="4.4" text-anchor="middle" font-weight="normal" fill="#000" ><tspan class="al">α</tspan>Ig</text>
<text class="s" x="215.00" y="470.60" font-size="4.4" text-anchor="middle" font-weight="normal" fill="#000" >med</text>
<text class="s" x="235.00" y="470.60" font-size="4.4" text-anchor="middle" font-weight="normal" fill="#000" ><tspan class="al">α</tspan>Ig</text>
<line x1="171.00" y1="472.40" x2="199.00" y2="472.40" stroke="#777" stroke-width="0.6" />
<line x1="211.00" y1="472.40" x2="239.00" y2="472.40" stroke="#777" stroke-width="0.6" />
<text class="s" x="184.50" y="477.00" font-size="4.4" text-anchor="middle" font-weight="normal" fill="#000" font-style="italic">CONT</text>
<text class="s" x="224.50" y="477.00" font-size="4.4" text-anchor="middle" font-weight="normal" fill="#000" font-style="italic">CIN85</text>
<line x1="167.00" y1="478.60" x2="242.30" y2="478.60" stroke="#555" stroke-width="0.6" />
<text class="s" x="204.00" y="483.50" font-size="4.4" text-anchor="middle" font-weight="normal" fill="#000" font-style="italic">shRNA</text>
<text class="b" x="263.80" y="285.00" font-size="10.5" text-anchor="start" font-weight="bold" fill="#000" >E</text>
<rect x="287.60" y="293.60" width="79.40" height="56.40" fill="#fff" stroke="#e2e2e2" stroke-width="0.8" />
<line x1="287.60" y1="301.66" x2="367.00" y2="301.66" stroke="#d8d8d8" stroke-width="0.8" />
<line x1="287.60" y1="309.71" x2="367.00" y2="309.71" stroke="#d8d8d8" stroke-width="0.8" />
<line x1="287.60" y1="317.77" x2="367.00" y2="317.77" stroke="#d8d8d8" stroke-width="0.8" />
<line x1="287.60" y1="325.83" x2="367.00" y2="325.83" stroke="#d8d8d8" stroke-width="0.8" />
<line x1="287.60" y1="333.89" x2="367.00" y2="333.89" stroke="#d8d8d8" stroke-width="0.8" />
<line x1="287.60" y1="341.94" x2="367.00" y2="341.94" stroke="#d8d8d8" stroke-width="0.8" />
<text x="286.30" y="295.22" font-size="4.5" text-anchor="end" font-weight="normal" fill="#222" >3.5</text>
<text x="286.30" y="303.28" font-size="4.5" text-anchor="end" font-weight="normal" fill="#222" >3</text>
<text x="286.30" y="311.33" font-size="4.5" text-anchor="end" font-weight="normal" fill="#222" >2.5</text>
<text x="286.30" y="319.39" font-size="4.5" text-anchor="end" font-weight="normal" fill="#222" >2</text>
<text x="286.30" y="327.45" font-size="4.5" text-anchor="end" font-weight="normal" fill="#222" >1.5</text>
<text x="286.30" y="335.51" font-size="4.5" text-anchor="end" font-weight="normal" fill="#222" >1</text>
<text x="286.30" y="343.56" font-size="4.5" text-anchor="end" font-weight="normal" fill="#222" >0.5</text>
<text x="286.30" y="351.62" font-size="4.5" text-anchor="end" font-weight="normal" fill="#222" >0</text>
<text x="289.20" y="299.40" font-size="4.2" text-anchor="start" font-weight="normal" fill="#222" >Blimp-1</text>
<rect x="296.40" y="349.60" width="2.40" height="0.70" fill="#000" stroke="none" stroke-width="1" />
<line x1="317.50" y1="329.40" x2="317.50" y2="334.00" stroke="#2a2a2a" stroke-width="0.7" />
<line x1="316.10" y1="329.40" x2="318.90" y2="329.40" stroke="#222" stroke-width="0.7" />
<rect x="313.60" y="334.00" width="7.80" height="16.30" fill="#000" stroke="none" stroke-width="1" />
<rect x="335.40" y="349.60" width="2.40" height="0.70" fill="#000" stroke="none" stroke-width="1" />
<line x1="356.80" y1="298.00" x2="356.80" y2="305.00" stroke="#2a2a2a" stroke-width="0.7" />
<line x1="355.40" y1="298.00" x2="358.20" y2="298.00" stroke="#222" stroke-width="0.7" />
<rect x="353.00" y="305.00" width="7.60" height="45.30" fill="#000" stroke="none" stroke-width="1" />
<text class="s" x="356.80" y="298.78" font-size="5.5" text-anchor="middle" font-weight="bold" fill="#000" >*</text>
<text transform="translate(277.50,322.00) rotate(-90)" font-size="4.6" text-anchor="middle" fill="#222" >Relative expression</text>
<text class="s" x="297.60" y="355.40" font-size="4.4" text-anchor="middle" font-weight="normal" fill="#000" >med</text>
<text class="s" x="317.40" y="355.40" font-size="4.4" text-anchor="middle" font-weight="normal" fill="#000" ><tspan class="al">α</tspan>Ig</text>
<text class="s" x="317.40" y="359.10" font-size="3.5200000000000005" text-anchor="middle" font-weight="normal" fill="#000" >+</text>
<text class="s" x="317.40" y="363.10" font-size="4.048000000000001" text-anchor="middle" font-weight="normal" fill="#000" >CpG</text>
<text class="s" x="336.60" y="355.40" font-size="4.4" text-anchor="middle" font-weight="normal" fill="#000" >med</text>
<text class="s" x="356.60" y="355.40" font-size="4.4" text-anchor="middle" font-weight="normal" fill="#000" ><tspan class="al">α</tspan>Ig</text>
<text class="s" x="356.60" y="359.10" font-size="3.5200000000000005" text-anchor="middle" font-weight="normal" fill="#000" >+</text>
<text class="s" x="356.60" y="363.10" font-size="4.048000000000001" text-anchor="middle" font-weight="normal" fill="#000" >CpG</text>
<line x1="293.00" y1="365.00" x2="321.50" y2="365.00" stroke="#444" stroke-width="0.5" />
<line x1="332.00" y1="365.00" x2="361.00" y2="365.00" stroke="#444" stroke-width="0.5" />
<text x="307.00" y="370.00" font-size="4.8" text-anchor="middle" font-weight="normal" fill="#222" >CONT</text>
<text x="346.60" y="370.00" font-size="4.8" text-anchor="middle" font-weight="normal" fill="#222" >CIN85</text>
<line x1="287.70" y1="371.20" x2="365.60" y2="371.20" stroke="#444" stroke-width="0.6" />
<text x="327.00" y="376.20" font-size="4.5" text-anchor="middle" font-weight="normal" fill="#222" >shRNA</text>
<rect x="287.40" y="386.60" width="79.60" height="56.90" fill="#fff" stroke="#e2e2e2" stroke-width="0.8" />
<line x1="287.40" y1="396.08" x2="367.00" y2="396.08" stroke="#d8d8d8" stroke-width="0.8" />
<line x1="287.40" y1="405.57" x2="367.00" y2="405.57" stroke="#d8d8d8" stroke-width="0.8" />
<line x1="287.40" y1="415.05" x2="367.00" y2="415.05" stroke="#d8d8d8" stroke-width="0.8" />
<line x1="287.40" y1="424.53" x2="367.00" y2="424.53" stroke="#d8d8d8" stroke-width="0.8" />
<line x1="287.40" y1="434.02" x2="367.00" y2="434.02" stroke="#d8d8d8" stroke-width="0.8" />
<text x="286.10" y="388.22" font-size="4.5" text-anchor="end" font-weight="normal" fill="#222" >3</text>
<text x="286.10" y="397.70" font-size="4.5" text-anchor="end" font-weight="normal" fill="#222" >2.5</text>
<text x="286.10" y="407.19" font-size="4.5" text-anchor="end" font-weight="normal" fill="#222" >2</text>
<text x="286.10" y="416.67" font-size="4.5" text-anchor="end" font-weight="normal" fill="#222" >1.5</text>
<text x="286.10" y="426.15" font-size="4.5" text-anchor="end" font-weight="normal" fill="#222" >1</text>
<text x="286.10" y="435.64" font-size="4.5" text-anchor="end" font-weight="normal" fill="#222" >0.5</text>
<text x="286.10" y="445.12" font-size="4.5" text-anchor="end" font-weight="normal" fill="#222" >0</text>
<text x="289.00" y="392.80" font-size="4.2" text-anchor="start" font-weight="normal" fill="#222" >Xbp-1</text>
<rect x="296.40" y="443.10" width="2.40" height="0.70" fill="#000" stroke="none" stroke-width="1" />
<line x1="317.30" y1="424.20" x2="317.30" y2="425.00" stroke="#2a2a2a" stroke-width="0.7" />
<line x1="315.90" y1="424.20" x2="318.70" y2="424.20" stroke="#222" stroke-width="0.7" />
<rect x="313.60" y="425.00" width="7.40" height="18.80" fill="#000" stroke="none" stroke-width="1" />
<rect x="335.40" y="443.10" width="2.40" height="0.70" fill="#000" stroke="none" stroke-width="1" />
<line x1="357.30" y1="395.00" x2="357.30" y2="399.40" stroke="#2a2a2a" stroke-width="0.7" />
<line x1="355.90" y1="395.00" x2="358.70" y2="395.00" stroke="#222" stroke-width="0.7" />
<rect x="353.60" y="399.40" width="7.40" height="44.40" fill="#000" stroke="none" stroke-width="1" />
<text class="s" x="357.30" y="395.78" font-size="5.5" text-anchor="middle" font-weight="bold" fill="#000" >*</text>
<text transform="translate(277.00,415.00) rotate(-90)" font-size="4.6" text-anchor="middle" fill="#222" >Relative expression</text>
<text class="s" x="297.60" y="449.80" font-size="4.4" text-anchor="middle" font-weight="normal" fill="#000" >med</text>
<text class="s" x="317.40" y="449.80" font-size="4.4" text-anchor="middle" font-weight="normal" fill="#000" ><tspan class="al">α</tspan>Ig</text>
<text class="s" x="317.40" y="453.50" font-size="3.5200000000000005" text-anchor="middle" font-weight="normal" fill="#000" >+</text>
<text class="s" x="317.40" y="457.50" font-size="4.048000000000001" text-anchor="middle" font-weight="normal" fill="#000" >CpG</text>
<text class="s" x="336.60" y="449.80" font-size="4.4" text-anchor="middle" font-weight="normal" fill="#000" >med</text>
<text class="s" x="356.60" y="449.80" font-size="4.4" text-anchor="middle" font-weight="normal" fill="#000" ><tspan class="al">α</tspan>Ig</text>
<text class="s" x="356.60" y="453.50" font-size="3.5200000000000005" text-anchor="middle" font-weight="normal" fill="#000" >+</text>
<text class="s" x="356.60" y="457.50" font-size="4.048000000000001" text-anchor="middle" font-weight="normal" fill="#000" >CpG</text>
<line x1="293.00" y1="459.00" x2="321.50" y2="459.00" stroke="#444" stroke-width="0.5" />
<line x1="332.00" y1="459.00" x2="361.00" y2="459.00" stroke="#444" stroke-width="0.5" />
<text x="307.00" y="463.70" font-size="4.8" text-anchor="middle" font-weight="normal" fill="#222" >CONT</text>
<text x="346.60" y="463.70" font-size="4.8" text-anchor="middle" font-weight="normal" fill="#222" >CIN85</text>
<line x1="287.70" y1="465.50" x2="365.60" y2="465.50" stroke="#444" stroke-width="0.6" />
<text x="327.00" y="470.20" font-size="4.5" text-anchor="middle" font-weight="normal" fill="#222" >shRNA</text>
<text class="b" x="397.60" y="285.00" font-size="10.5" text-anchor="start" font-weight="bold" fill="#000" >F</text>
<text class="s" x="457.40" y="288.80" font-size="5.8" text-anchor="middle" font-weight="normal" fill="#000" >Lysates</text>
<line x1="428.00" y1="290.10" x2="490.40" y2="290.10" stroke="#333" stroke-width="0.7" />
<text class="s" x="427.80" y="297.60" font-size="5.6" text-anchor="end" font-weight="normal" fill="#000" >shRNA:</text>
<text class="s" x="442.80" y="297.60" font-size="5.7" text-anchor="middle" font-weight="normal" fill="#000" >CONT</text>
<text class="s" x="472.80" y="297.60" font-size="5.7" text-anchor="middle" font-weight="normal" fill="#000" >CIN85</text>
<line x1="428.00" y1="299.70" x2="455.60" y2="299.70" stroke="#333" stroke-width="0.7" />
<line x1="459.00" y1="299.70" x2="489.00" y2="299.70" stroke="#333" stroke-width="0.7" />
<text class="s" x="426.40" y="304.90" font-size="5.3" text-anchor="end" font-weight="normal" fill="#000" ><tspan class="al">α</tspan>Ig</text>
<text class="s" x="426.40" y="311.50" font-size="5.3" text-anchor="end" font-weight="normal" fill="#000" >CpG</text>
<text x="433.40" y="305.00" font-size="4.5" text-anchor="middle" font-weight="normal" fill="#333" >-</text>
<text x="443.00" y="305.30" font-size="4.5" text-anchor="middle" font-weight="bold" fill="#333" >+</text>
<text x="452.60" y="305.30" font-size="4.5" text-anchor="middle" font-weight="bold" fill="#333" >+</text>
<text x="464.00" y="305.00" font-size="4.5" text-anchor="middle" font-weight="normal" fill="#333" >-</text>
<text x="474.00" y="305.30" font-size="4.5" text-anchor="middle" font-weight="bold" fill="#333" >+</text>
<text x="483.40" y="305.30" font-size="4.5" text-anchor="middle" font-weight="bold" fill="#333" >+</text>
<text x="433.40" y="311.60" font-size="4.5" text-anchor="middle" font-weight="normal" fill="#333" >-</text>
<text x="443.00" y="311.60" font-size="4.5" text-anchor="middle" font-weight="normal" fill="#333" >-</text>
<text x="452.60" y="311.90" font-size="4.5" text-anchor="middle" font-weight="bold" fill="#333" >+</text>
<text x="464.00" y="311.60" font-size="4.5" text-anchor="middle" font-weight="normal" fill="#333" >-</text>
<text x="474.00" y="311.60" font-size="4.5" text-anchor="middle" font-weight="normal" fill="#333" >-</text>
<text x="483.40" y="311.90" font-size="4.5" text-anchor="middle" font-weight="bold" fill="#333" >+</text>
<rect x="426.00" y="314.40" width="62.60" height="10.00" fill="#e4e4e4" stroke="#222" stroke-width="0.9" />
<rect x="448.50" y="318.50" width="7.00" height="3.00" rx="1.50" fill="#222" opacity="0.9" filter="url(#bl)"/>
<rect x="479.00" y="316.90" width="8.20" height="3.80" rx="1.90" fill="#000" opacity="1" filter="url(#bl)"/>
<rect x="426.00" y="327.60" width="62.60" height="10.00" fill="#c8c8c8" stroke="#222" stroke-width="0.9" />
<rect x="428.00" y="331.20" width="8.00" height="3.20" rx="1.60" fill="#000" opacity="1" filter="url(#bl)"/>
<rect x="438.00" y="331.20" width="8.00" height="3.20" rx="1.60" fill="#000" opacity="1" filter="url(#bl)"/>
<rect x="448.00" y="331.20" width="7.50" height="3.20" rx="1.60" fill="#000" opacity="1" filter="url(#bl)"/>
<rect x="458.00" y="331.00" width="8.00" height="3.20" rx="1.60" fill="#000" opacity="1" filter="url(#bl)"/>
<rect x="468.00" y="331.00" width="8.00" height="3.20" rx="1.60" fill="#000" opacity="1" filter="url(#bl)"/>
<rect x="478.00" y="330.90" width="8.50" height="3.40" rx="1.70" fill="#000" opacity="1" filter="url(#bl)"/>
<path d="M490.30,319.00 l4.2,-2.1 v1.45 h3.50 v1.3 h-3.50 v1.45 z" fill="#000"/>
<path d="M490.30,332.40 l4.2,-2.1 v1.45 h3.50 v1.3 h-3.50 v1.45 z" fill="#000"/>
<text class="s" x="500.00" y="320.90" font-size="5.2" text-anchor="start" font-weight="normal" fill="#000" >Blimp-1</text>
<text class="s" x="500.00" y="334.50" font-size="5.4" text-anchor="start" font-weight="normal" fill="#000" >β-actin</text>
<rect x="426.80" y="342.20" width="65.80" height="30.60" fill="#fff" stroke="#777" stroke-width="0.5" />
<line x1="426.80" y1="346.57" x2="492.60" y2="346.57" stroke="#999" stroke-width="0.5" />
<line x1="426.80" y1="350.94" x2="492.60" y2="350.94" stroke="#999" stroke-width="0.5" />
<line x1="426.80" y1="355.31" x2="492.60" y2="355.31" stroke="#999" stroke-width="0.5" />
<line x1="426.80" y1="359.69" x2="492.60" y2="359.69" stroke="#999" stroke-width="0.5" />
<line x1="426.80" y1="364.06" x2="492.60" y2="364.06" stroke="#999" stroke-width="0.5" />
<line x1="426.80" y1="368.43" x2="492.60" y2="368.43" stroke="#999" stroke-width="0.5" />
<line x1="426.80" y1="342.20" x2="426.80" y2="372.80" stroke="#333" stroke-width="0.8" />
<line x1="425.80" y1="342.20" x2="426.80" y2="342.20" stroke="#333" stroke-width="0.5" />
<line x1="425.80" y1="346.57" x2="426.80" y2="346.57" stroke="#333" stroke-width="0.5" />
<line x1="425.80" y1="350.94" x2="426.80" y2="350.94" stroke="#333" stroke-width="0.5" />
<line x1="425.80" y1="355.31" x2="426.80" y2="355.31" stroke="#333" stroke-width="0.5" />
<line x1="425.80" y1="359.69" x2="426.80" y2="359.69" stroke="#333" stroke-width="0.5" />
<line x1="425.80" y1="364.06" x2="426.80" y2="364.06" stroke="#333" stroke-width="0.5" />
<line x1="425.80" y1="368.43" x2="426.80" y2="368.43" stroke="#333" stroke-width="0.5" />
<line x1="425.80" y1="372.80" x2="426.80" y2="372.80" stroke="#333" stroke-width="0.5" />
<text class="s" x="425.20" y="347.94" font-size="3.8" text-anchor="end" font-weight="normal" fill="#000" >3</text>
<text class="s" x="425.20" y="356.68" font-size="3.8" text-anchor="end" font-weight="normal" fill="#000" >2</text>
<text class="s" x="425.20" y="365.43" font-size="3.8" text-anchor="end" font-weight="normal" fill="#000" >1</text>
<text class="s" x="425.20" y="374.17" font-size="3.8" text-anchor="end" font-weight="normal" fill="#000" >0</text>
<rect x="452.00" y="364.20" width="4.60" height="8.90" fill="#000" stroke="none" stroke-width="1" />
<line x1="487.20" y1="346.60" x2="487.20" y2="348.00" stroke="#2a2a2a" stroke-width="1.15" />
<line x1="485.90" y1="346.60" x2="488.50" y2="346.60" stroke="#222" stroke-width="1.15" />
<rect x="485.00" y="348.00" width="4.40" height="25.10" fill="#000" stroke="none" stroke-width="1" />
<text class="s" x="487.20" y="347.58" font-size="5.5" text-anchor="middle" font-weight="bold" fill="#000" >**</text>
<text transform="translate(416.10,357.50) rotate(-90)" font-size="3.7" text-anchor="middle" fill="#222" >Relative Blimp-1</text>
<text transform="translate(420.30,357.50) rotate(-90)" font-size="3.7" text-anchor="middle" fill="#222" >expression</text>
<text class="s" x="427.80" y="378.30" font-size="4.4" text-anchor="end" font-weight="normal" fill="#000" ><tspan class="al">α</tspan>Ig</text>
<text class="s" x="427.80" y="384.60" font-size="4.5" text-anchor="end" font-weight="normal" fill="#000" >CpG</text>
<text x="434.00" y="378.20" font-size="4" text-anchor="middle" font-weight="normal" fill="#333" >-</text>
<text x="444.40" y="378.50" font-size="4" text-anchor="middle" font-weight="bold" fill="#333" >+</text>
<text x="455.60" y="378.50" font-size="4" text-anchor="middle" font-weight="bold" fill="#333" >+</text>
<text x="467.00" y="378.20" font-size="4" text-anchor="middle" font-weight="normal" fill="#333" >-</text>
<text x="477.00" y="378.50" font-size="4" text-anchor="middle" font-weight="bold" fill="#333" >+</text>
<text x="487.40" y="378.50" font-size="4" text-anchor="middle" font-weight="bold" fill="#333" >+</text>
<text x="434.00" y="384.20" font-size="4" text-anchor="middle" font-weight="normal" fill="#333" >-</text>
<text x="444.40" y="384.20" font-size="4" text-anchor="middle" font-weight="normal" fill="#333" >-</text>
<text x="455.60" y="384.50" font-size="4" text-anchor="middle" font-weight="bold" fill="#333" >+</text>
<text x="467.00" y="384.20" font-size="4" text-anchor="middle" font-weight="normal" fill="#333" >-</text>
<text x="477.00" y="384.20" font-size="4" text-anchor="middle" font-weight="normal" fill="#333" >-</text>
<text x="487.40" y="384.50" font-size="4" text-anchor="middle" font-weight="bold" fill="#333" >+</text>
<line x1="432.00" y1="386.00" x2="459.00" y2="386.00" stroke="#333" stroke-width="0.6" />
<line x1="464.00" y1="386.00" x2="492.00" y2="386.00" stroke="#333" stroke-width="0.6" />
<text class="s" x="427.20" y="391.20" font-size="4.3" text-anchor="end" font-weight="normal" fill="#000" >shRNA:</text>
<text class="s" x="443.60" y="391.20" font-size="4.6" text-anchor="middle" font-weight="normal" fill="#000" >CONT</text>
<text class="s" x="476.80" y="391.20" font-size="4.6" text-anchor="middle" font-weight="normal" fill="#000" >CIN85</text>
</svg>
</body></html>
